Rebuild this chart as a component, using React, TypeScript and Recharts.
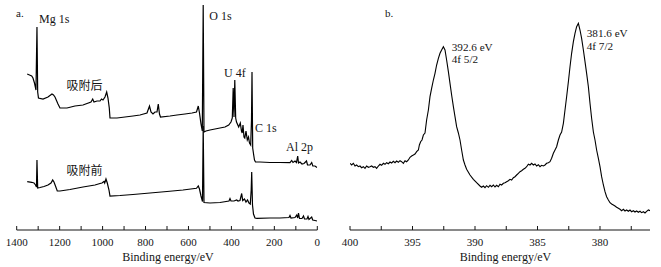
import React from 'react';
import { LineChart, Line, XAxis, YAxis } from 'recharts';

// ---------- Panel a: XPS survey spectra ----------
const afterEnergy = [
  1351, 1340.5, 1330.2, 1324.2, 1317.2, 1310.2, 1305.6, 1302.3, 1298.6, 1277.6,
  1254.3, 1235.7, 1228.7, 1221.7, 1207.7, 1198.4, 1165.8, 1128.6, 1091.3, 1054.0,
  1046.1, 1040.1, 1026.1, 1012.1, 1005.1, 998.1, 988.8, 980.9, 974.9, 968.8,
  965.5, 932.9, 895.7, 858.4, 825.8, 793.2, 781.6, 774.6, 765.3, 756.0,
  746.6, 740.6, 735.0, 730.3, 686.1, 653.5, 616.2, 583.6, 562.6, 554.3,
  548.7, 541.7, 535.6, 531.4, 527.7, 518.4, 499.8, 476.5, 453.2, 429.9,
  412.7, 402.0, 395.9, 391.7, 388.0, 384.3, 380.1, 376.3, 366.1, 358.6,
  353.1, 349.8, 346.1, 341.4, 337.7, 332.1, 326.0, 320.4, 315.8, 310.2,
  306.5, 304.1, 300.9, 296.2, 292.5, 287.8, 266.9, 220.3, 173.7, 127.2,
  119.2, 113.2, 103.9, 96.9, 91.3, 87.6, 80.6, 71.3, 61.9, 50.3,
  45.6, 34.0, 26.1, 21.0, 10.7, 1.4,
];
const afterIntensity = [
  156, 155, 154, 152, 147, 140, 203, 138, 132, 131,
  133, 136, 135, 133, 126, 122, 122, 124, 125, 128,
  131, 128, 129, 129, 131, 130, 133, 138, 132, 122,
  112, 112, 113, 114, 115, 117, 124, 118, 116, 118,
  118, 126, 116, 113, 114, 115, 116, 117, 118, 124,
  117, 106, 99, 225, 98, 99, 100, 101, 102, 103,
  105, 108, 112, 142, 113, 150, 112, 108, 103, 107,
  99, 97, 105, 93, 92, 99, 90, 93, 87, 85,
  110, 158, 82, 75, 70, 68, 68, 67.5, 67.5, 67.3,
  69.5, 67.5, 69, 67.5, 74, 67, 68, 66, 66.5, 69,
  65, 65, 67.5, 64, 64, 62.5,
];

const beforeEnergy = [
  1351, 1330.2, 1319.5, 1312.5, 1307.9, 1305.6, 1302.3, 1291.6, 1273.0, 1254.3,
  1240.3, 1232.4, 1226.4, 1219.4, 1211.0, 1198.4, 1151.8, 1091.3, 1035.4, 1012.1,
  1002.8, 993.5, 990.2, 984.2, 978.1, 970.2, 965.5, 919.0, 858.4, 779.2,
  700.1, 625.5, 562.6, 554.3, 548.7, 541.7, 534.7, 531.4, 527.7, 499.8,
  453.2, 411.3, 406.6, 402.0, 388.0, 375.4, 369.4, 360.0, 352.1, 347.5,
  339.1, 332.1, 325.1, 318.1, 312.1, 307.9, 305.5, 301.8, 297.2, 290.2,
  280.9, 220.3, 173.7, 131.8, 127.2, 122.5, 103.9, 95.9, 91.3, 87.6,
  82.9, 71.3, 64.3, 59.6, 48.0, 43.3, 38.7, 26.1, 21.4, 10.7,
  1.4,
];
const beforeIntensity = [
  48.3, 47.7, 47, 45, 43, 70, 42, 42.5, 43.5, 45,
  47, 50, 48, 44, 39, 39, 40.5, 43, 45, 46.5,
  47, 48.5, 47, 51, 47, 40, 34, 34.5, 35.5, 37,
  38.5, 40, 41.7, 44, 41, 34, 28.5, 104, 27.5, 27,
  27.5, 29, 31.5, 29, 29, 30, 29, 29.5, 36.5, 29.5,
  31, 28, 30, 27, 26, 40, 58, 25, 16, 12,
  11.7, 12, 12, 12.5, 14.5, 12, 12.5, 15, 12, 17,
  11.5, 11.5, 14, 11, 11, 13.5, 10.5, 13, 10, 9.5,
  9,
];

const surveyTicks = [1400, 1300, 1200, 1100, 1000, 900, 800, 700, 600, 500, 400, 300, 200, 100, 0];

// ---------- Panel b: U 4f high-resolution spectrum ----------
const u4fEnergy = [
  400.00, 399.87, 399.73, 399.60, 399.47, 399.33, 399.20, 399.07, 398.93, 398.80,
  398.67, 398.53, 398.40, 398.27, 398.13, 398.00, 397.87, 397.73, 397.60, 397.47,
  397.33, 397.20, 397.07, 396.93, 396.80, 396.67, 396.53, 396.40, 396.27, 396.13,
  396.00, 395.87, 395.73, 395.60, 395.47, 395.33, 395.20, 395.07, 394.93, 394.80,
  394.67, 394.53, 394.45, 394.35, 394.24, 394.13, 394.00, 393.87, 393.73, 393.60,
  393.47, 393.33, 393.20, 393.07, 392.93, 392.80, 392.67, 392.53, 392.40, 392.27,
  392.13, 392.00, 391.87, 391.73, 391.60, 391.47, 391.33, 391.20, 391.07, 390.93,
  390.80, 390.67, 390.40, 390.13, 389.87, 389.60, 389.47, 389.33, 389.20, 389.07,
  388.93, 388.80, 388.67, 388.53, 388.40, 388.27, 388.13, 388.00, 387.87, 387.73,
  387.60, 387.47, 387.33, 387.20, 387.07, 386.93, 386.80, 386.67, 386.53, 386.40,
  386.27, 386.13, 386.00, 385.87, 385.73, 385.60, 385.47, 385.33, 385.20, 385.07,
  384.93, 384.80, 384.67, 384.53, 384.40, 384.27, 384.13, 384.00, 383.87, 383.73,
  383.60, 383.47, 383.33, 383.20, 383.07, 382.93, 382.80, 382.67, 382.53, 382.40,
  382.27, 382.13, 382.00, 381.87, 381.73, 381.60, 381.47, 381.33, 381.20, 381.07,
  380.93, 380.80, 380.67, 380.53, 380.40, 380.27, 380.13, 380.00, 379.87, 379.73,
  379.60, 379.47, 379.33, 379.20, 379.07, 378.93, 378.80, 378.67, 378.53, 378.40,
  378.27, 378.13, 378.00, 377.87, 377.73, 377.60, 377.47, 377.33, 377.20, 377.07,
  376.93, 376.80, 376.67, 376.53, 376.40, 376.27, 376.13, 376.00,
];
const u4fIntensity = [
  66.7, 65.0, 66.7, 64.0, 65.0, 63.3, 64.0, 62.3, 63.3, 61.7,
  64.0, 62.7, 63.3, 64.0, 62.7, 63.3, 61.7, 64.0, 65.7, 64.7,
  66.7, 65.7, 67.3, 66.3, 68.0, 67.0, 68.7, 67.3, 69.0, 67.7,
  69.3, 68.3, 66.7, 69.3, 68.3, 70.0, 72.7, 74.0, 75.0, 76.0,
  78.3, 80.0, 85.0, 88.3, 90.0, 95.0, 97.0, 110.0, 120.0, 133.3,
  141.7, 150.0, 156.7, 165.0, 171.7, 176.7, 180.0, 183.3, 180.0, 170.0,
  158.3, 146.7, 135.0, 123.3, 113.3, 103.3, 97.0, 90.0, 80.0, 70.0,
  65.0, 60.7, 55.0, 50.7, 47.3, 44.0, 42.7, 44.0, 42.3, 44.3,
  42.7, 44.7, 43.3, 45.0, 43.0, 44.7, 43.3, 45.7, 45.0, 46.7,
  47.3, 48.3, 49.3, 50.7, 50.0, 52.3, 53.3, 55.0, 56.7, 58.3,
  59.3, 60.7, 61.7, 63.3, 65.7, 65.0, 66.7, 65.0, 66.0, 64.0,
  65.3, 63.3, 64.7, 64.0, 65.0, 66.7, 67.3, 68.3, 71.7, 76.7,
  80.0, 83.3, 90.0, 95.0, 98.0, 106.7, 120.0, 133.3, 148.3, 163.3,
  176.7, 188.3, 196.7, 203.3, 206.7, 200.0, 191.7, 180.0, 168.3, 156.7,
  143.3, 126.7, 111.7, 98.0, 90.0, 80.0, 71.7, 63.3, 53.3, 45.0,
  38.3, 33.3, 30.0, 27.3, 26.0, 25.0, 24.0, 22.7, 21.7, 20.7,
  19.3, 20.7, 19.0, 20.0, 18.7, 20.0, 18.3, 19.3, 18.0, 19.0,
  17.7, 18.7, 17.3, 18.3, 17.0, 18.7, 20.0, 19.3,
];

const u4fTicks = [400, 397.5, 395, 392.5, 390, 387.5, 385, 382.5, 380, 377.5];

const afterData = afterEnergy.map((e, i) => ({ e, v: afterIntensity[i] }));
const beforeData = beforeEnergy.map((e, i) => ({ e, v: beforeIntensity[i] }));
const u4fData = u4fEnergy.map((e, i) => ({ e, v: u4fIntensity[i] }));

const SERIF = '"Liberation Serif", "Times New Roman", serif';
const CJK = '"Noto Sans CJK SC", sans-serif';
const INK = '#151515';

const makeTick = (isMajor: (v: number) => boolean) => (props: any) => {
  const { x, y, payload } = props;
  const v = payload.value as number;
  const major = isMajor(v);
  return (
    <g>
      <line x1={x} x2={x} y1={y} y2={y - 4} stroke={INK} strokeWidth={1} />
      {major && (
        <text x={x} y={y + 15.5} textAnchor="middle" fontSize={11} fontFamily={SERIF} fill={INK}>
          {v}
        </text>
      )}
    </g>
  );
};

const TickA = makeTick((v) => Math.abs(v % 200) < 1e-6);
const TickB = makeTick((v) => Math.abs(v % 5) < 1e-6);

type Ann = { text: string; x: number; y: number; size?: number; cjk?: boolean; anchor?: string };
const annotations: Ann[] = [
  { text: 'a.', x: 16, y: 17, size: 11 },
  { text: 'Mg 1s', x: 39, y: 23.3 },
  { text: '吸附后', x: 66.5, y: 90.3, cjk: true },
  { text: 'O 1s', x: 209.3, y: 20 },
  { text: 'U 4f', x: 224, y: 76.7 },
  { text: 'C 1s', x: 255, y: 131.7 },
  { text: 'Al 2p', x: 286, y: 150.5 },
  { text: '吸附前', x: 66.5, y: 174.6, cjk: true },
  { text: 'Binding energy/eV', x: 168, y: 261, anchor: 'middle' },
  { text: 'b.', x: 385, y: 17, size: 11 },
  { text: '392.6 eV', x: 451.7, y: 50.6, size: 11.2 },
  { text: '4f 5/2', x: 451.7, y: 63.2, size: 11.2 },
  { text: '381.6 eV', x: 586.7, y: 36.9, size: 11.2 },
  { text: '4f 7/2', x: 586.7, y: 49.5, size: 11.2 },
  { text: 'Binding energy/eV', x: 505.5, y: 261, anchor: 'middle' },
];

export default function App() {
  return (
    <div style={{ position: 'absolute', left: 0, top: 0, width: 661, height: 267, background: '#fff' }}>
      <div style={{ position: 'absolute', left: 0, top: 0 }}>
        <LineChart width={330} height={267} margin={{ top: 0, right: 12.7, bottom: 0, left: 16.7 }}>
          <XAxis
            type="number"
            dataKey="e"
            domain={[0, 1400]}
            reversed
            ticks={surveyTicks}
            interval={0}
            tickSize={0}
            tickMargin={0}
            tickLine={false}
            tick={TickA}
            height={37}
            axisLine={{ stroke: INK, strokeWidth: 1 }}
            allowDataOverflow
          />
          <YAxis type="number" domain={[0, 230]} hide allowDataOverflow />
          <Line data={afterData} dataKey="v" type="linear" stroke="#000" strokeWidth={1.2} dot={false} isAnimationActive={false} />
          <Line data={beforeData} dataKey="v" type="linear" stroke="#000" strokeWidth={1.2} dot={false} isAnimationActive={false} />
        </LineChart>
      </div>
      <div style={{ position: 'absolute', left: 330, top: 0 }}>
        <LineChart width={331} height={267} margin={{ top: 0, right: 11, bottom: 0, left: 20 }}>
          <XAxis
            type="number"
            dataKey="e"
            domain={[376, 400]}
            reversed
            ticks={u4fTicks}
            interval={0}
            tickSize={0}
            tickMargin={0}
            tickLine={false}
            tick={TickB}
            height={37}
            axisLine={{ stroke: INK, strokeWidth: 1 }}
            allowDataOverflow
          />
          <YAxis type="number" domain={[0, 230]} hide allowDataOverflow />
          <Line data={u4fData} dataKey="v" type="linear" stroke="#000" strokeWidth={1.1} dot={false} isAnimationActive={false} />
        </LineChart>
      </div>
      <svg width={661} height={267} style={{ position: 'absolute', left: 0, top: 0, pointerEvents: 'none' }}>
        {annotations.map((a, i) => (
          <text
            key={i}
            x={a.x}
            y={a.y}
            fontSize={a.size ?? 12}
            fontFamily={a.cjk ? CJK : SERIF}
            textAnchor={(a.anchor as any) ?? 'start'}
            fill={INK}
          >
            {a.text}
          </text>
        ))}
      </svg>
    </div>
  );
}
